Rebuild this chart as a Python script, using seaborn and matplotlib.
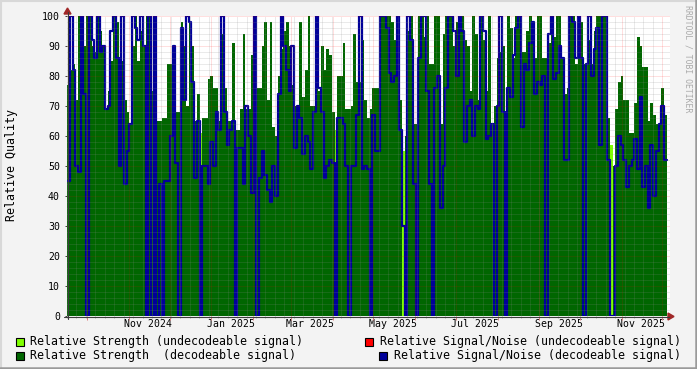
import numpy as np
import pandas as pd
import matplotlib
matplotlib.use("Agg")
import matplotlib.pyplot as plt
from matplotlib.patches import Rectangle, Polygon
from matplotlib.lines import Line2D
import seaborn as sns

# ------------------------------
# Data (one sample every 2 days, starting 2024-09-17)
# ------------------------------
start_day = "2024-09-17"
step_days = 2

# relative strength of decodeable signal (0 where the signal was undecodeable)
strength = [
    77, 82, 84, 72, 100, 100, 90, 100, 100, 90, 88, 100, 95, 90, 69, 75, 85, 100, 98, 78,
    85, 72, 68, 64, 90, 100, 85, 95, 90, 100, 100, 75, 72, 65, 65, 66, 66,
    84, 84, 80, 68, 68, 98, 90, 70, 98, 90, 65, 74, 0, 66, 66, 79, 80, 76, 76, 65, 94,
    76, 65, 65, 91, 62, 62, 69, 94, 69, 69, 87, 76, 76, 76, 90, 98,
    72, 98, 63, 60, 80, 89, 95, 98, 90, 77, 70, 70, 98, 73, 82, 100, 70, 70, 88, 75,
    90, 82, 89, 87, 68, 0, 80, 80, 91, 69, 69, 70, 94, 78, 78, 92, 72,
    66, 69, 76, 76, 76, 100, 100, 100, 100, 98, 92, 95, 72, 0, 60, 95, 100, 64, 64, 100,
    100, 93, 100, 84, 84, 100, 100, 64, 94, 100, 100, 100, 90, 98, 100, 100, 92,
    90, 75, 100, 94, 72, 100, 92, 75, 100, 64, 70, 86, 88, 90, 66, 100, 96, 86, 100, 100,
    88, 88, 95, 100, 98, 86, 100, 100, 86, 86, 91, 95, 93, 100, 100, 86, 74,
    76, 100, 100, 84, 100, 98, 84, 84, 92, 84, 95, 100, 100, 100, 100, 66, 0, 50, 69, 78,
    80, 72, 72, 61, 61, 71, 93, 90, 83, 83, 65, 71, 67, 64, 64, 76, 67,
]

# relative signal/noise of decodeable signal
snr = [
    45, 100, 82, 50, 48, 100, 74, 0, 100, 92, 86, 100, 88, 90, 69, 70, 95, 100, 86, 50,
    100, 44, 55, 64, 100, 96, 92, 100, 90, 0, 100, 0, 100, 0, 44, 0, 45,
    45, 60, 90, 51, 0, 96, 72, 100, 98, 78, 46, 65, 0, 50, 50, 44, 58, 50, 68, 62, 100,
    68, 57, 62, 65, 0, 56, 56, 44, 70, 60, 41, 100, 0, 46, 55, 47,
    42, 38, 50, 40, 74, 100, 90, 82, 75, 90, 56, 70, 66, 54, 60, 58, 49, 68, 100, 76,
    68, 46, 50, 52, 51, 0, 66, 66, 64, 50, 0, 50, 50, 67, 100, 49, 50,
    49, 0, 67, 55, 55, 100, 100, 96, 81, 78, 80, 100, 62, 30, 0, 100, 92, 44, 0, 86,
    100, 100, 75, 44, 0, 76, 80, 36, 50, 76, 100, 100, 95, 80, 100, 95, 58,
    70, 72, 60, 70, 69, 100, 95, 59, 60, 64, 0, 70, 100, 68, 0, 76, 73, 87, 96, 100,
    63, 84, 82, 91, 98, 74, 78, 77, 80, 0, 94, 100, 79, 81, 90, 86, 52,
    52, 100, 98, 86, 100, 86, 0, 84, 100, 80, 89, 96, 57, 100, 100, 52, 0, 0, 50, 60,
    57, 52, 43, 50, 52, 59, 49, 73, 43, 50, 36, 57, 40, 55, 64, 70, 52,
]

# samples where the signal could not be decoded
undec_index = [49, 99, 124, 201]
undec_strength = [61, 62, 55, 57]

label_days = ["2024-11-16", "2025-01-16", "2025-03-16", "2025-05-16",
              "2025-07-16", "2025-09-16", "2025-11-16"]
label_text = ["Nov 2024", "Jan 2025", "Mar 2025", "May 2025",
              "Jul 2025", "Sep 2025", "Nov 2025"]

legend_labels = [
    "Relative Strength (undecodeable signal)",
    "Relative Signal/Noise (undecodeable signal)",
    "Relative Strength  (decodeable signal)",
    "Relative Signal/Noise (decodeable signal)",
]

# ------------------------------
# Prepare series
# ------------------------------
n = len(strength)
t0 = pd.Timestamp(start_day)
edges = t0 + pd.to_timedelta(np.arange(n + 1) * step_days, unit="D")
undec = np.zeros(n)
undec[undec_index] = undec_strength

def ext(vals):
    vals = list(vals)
    return vals + [vals[-1]]

df = pd.DataFrame({"time": edges, "snr": ext(snr)})

# ------------------------------
# Figure
# ------------------------------
sns.set_theme(style="white")
plt.rcParams["font.family"] = ["DejaVu Sans Mono"]

W, H = 697, 369
fig = plt.figure(figsize=(W / 100, H / 100), dpi=100, facecolor="#f3f3f3")
ax = fig.add_axes([67 / W, 1 - 316 / H, 603 / W, 300 / H])
ax.set_facecolor("white")

nov1 = pd.Timestamp("2024-11-01")
left = nov1 - pd.Timedelta(days=45.19)
right = nov1 + pd.Timedelta(days=401.48)

ax.fill_between(edges, ext(strength), step="post", color="#006600", lw=0, zorder=1)
ax.fill_between(edges, ext(undec), step="post", color="#80ff00", lw=0, zorder=1.2)
sns.lineplot(data=df, x="time", y="snr", drawstyle="steps-post", color="#000099",
             linewidth=1.6, ax=ax, zorder=2)

ax.set_xlim(left, right)
ax.set_ylim(0, 100)

# grid on top of the data, rrdtool style (1px dots)
dots = (0, (1, 1))
minor_c = (0.55, 0.55, 0.55, 0.35)
major_c = (1, 0, 0, 0.25)
minor_y = [v for v in range(2, 100, 2) if v % 10]
ax.hlines(minor_y, 0, 1, transform=ax.get_yaxis_transform(), colors=minor_c,
          lw=0.72, linestyles=dots, zorder=3)
ax.hlines(range(10, 101, 10), 0, 1, transform=ax.get_yaxis_transform(),
          colors=major_c, lw=0.72, linestyles=dots, zorder=3)
weeks = pd.date_range(left, right, freq="W-MON")
months = pd.date_range(left, right, freq="MS")
ax.vlines(weeks, 0, 1, transform=ax.get_xaxis_transform(), colors=minor_c,
          lw=0.72, linestyles=dots, zorder=3)
ax.vlines(months, 0, 1, transform=ax.get_xaxis_transform(), colors=major_c,
          lw=0.72, linestyles=dots, zorder=3)
ax.vlines(weeks, -0.008, 0, transform=ax.get_xaxis_transform(), colors="#b8b8b8",
          lw=0.72, clip_on=False)
ax.vlines(months, -0.012, 0, transform=ax.get_xaxis_transform(), colors="#e08080",
          lw=0.72, clip_on=False)

for s in ax.spines.values():
    s.set_visible(False)

ax.set_yticks(range(0, 101, 10))
ax.tick_params(axis="y", left=True, length=1.5, width=0.7, color="#404040",
               labelsize=7.1, pad=3.6, labelcolor="black")
ax.set_xticks(pd.to_datetime(label_days))
ax.set_xticklabels(label_text)
ax.tick_params(axis="x", bottom=True, length=0, labelsize=7.1, pad=2.5, labelcolor="black")
ax.set_xlabel("")
ax.set_ylabel("")

# axis lines and arrows
def px(x, y):
    return (x / W, 1 - y / H)

axis_col = "#3c3c3c"
fig.add_artist(Line2D([64 / W, 669 / W], [1 - 316.5 / H] * 2, color=axis_col, lw=0.8))
fig.add_artist(Line2D([67.5 / W] * 2, [1 - 319 / H, 1 - 12 / H], color=axis_col, lw=0.8))
arrow_col = "#a02828"
fig.add_artist(Polygon([px(668, 313), px(674, 316.5), px(668, 320)], closed=True,
                       color=arrow_col, transform=fig.transFigure))
fig.add_artist(Polygon([px(64, 14), px(67.5, 8), px(71, 14)], closed=True,
                       color=arrow_col, transform=fig.transFigure))

# labels
fig.text(12 / W, 1 - 165 / H, "Relative Quality", rotation=90, ha="center", va="center",
         fontsize=8.4, color="black")
fig.text(688 / W, 1 - 59 / H, "RRDTOOL / TOBI OETIKER", rotation=270, ha="center",
         va="center", fontsize=5.9, color="#aaaaaa")

# legend
legend_pos = [(16, 341, 30), (365, 341, 380), (16, 355, 30), (379, 355, 394)]
legend_cols = ["#80ff00", "#ff0000", "#006600", "#000099"]
for (bx, by, tx), col, lab in zip(legend_pos, legend_cols, legend_labels):
    fig.add_artist(Rectangle((bx / W, 1 - (by + 4.5) / H), 8 / W, 8 / H,
                             transform=fig.transFigure, facecolor=col,
                             edgecolor="black", lw=0.8))
    fig.text(tx / W, 1 - by / H, lab, ha="left", va="center", fontsize=8.4, color="black")

# frame of the image
fig.add_artist(Line2D([0, 1], [1 - 0.5 / H] * 2, color="#d8d8d8", lw=1.5))
fig.add_artist(Line2D([0.5 / W] * 2, [0, 1], color="#d8d8d8", lw=1.5))
fig.add_artist(Line2D([0, 1], [1.2 / H] * 2, color="#9a9a9a", lw=1.8))
fig.add_artist(Line2D([1 - 1.2 / W] * 2, [0, 1], color="#9a9a9a", lw=1.8))

fig.savefig("out.png", dpi=100, facecolor=fig.get_facecolor())
